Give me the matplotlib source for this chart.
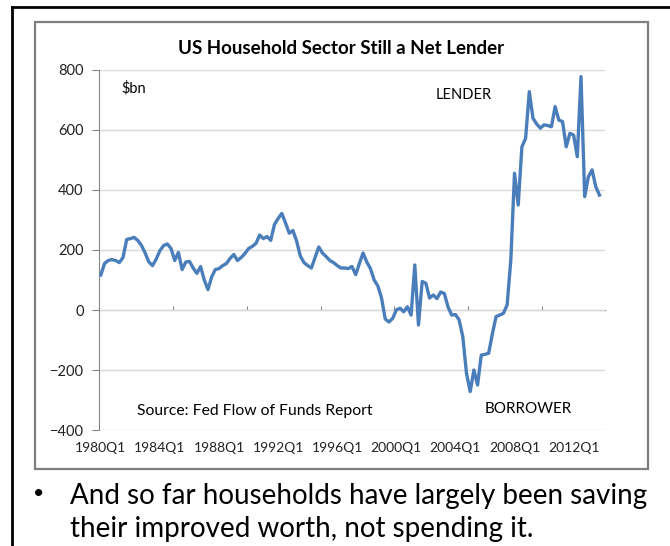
import numpy as np
import matplotlib
matplotlib.use("Agg")
import matplotlib.pyplot as plt
from matplotlib.patches import Rectangle

# netto utlån husholdninger, $bn, kvartalsvis 1980Q1 - 2013Q4 (lest av bildet)
net_lending = [
    117, 155, 165, 168, 165, 158, 175, 235, 238, 242,
    232, 215, 190, 160, 148, 170, 198, 215, 220, 205,
    165, 192, 135, 160, 162, 140, 122, 145, 100, 68,
    110, 135, 138, 148, 155, 172, 185, 165, 175, 188,
    205, 212, 222, 250, 238, 245, 232, 285, 305, 322,
    290, 256, 265, 230, 180, 158, 148, 140, 175, 210,
    190, 178, 165, 158, 148, 140, 140, 138, 145, 118,
    155, 190, 160, 138, 100, 80, 40, -30, -40, -28,
    0, 6, -6, 11, -17, 150, -50, 95, 89, 40,
    50, 38, 60, 55, 10, -17, -15, -33, -89, -211,
    -272, -200, -250, -150, -148, -144, -80, -22, -17, -11,
    17, 167, 456, 350, 544, 572, 728, 639, 620, 606,
    617, 615, 611, 678, 633, 628, 544, 589, 583, 511,
    778, 378, 444, 467, 411, 383,
]
quarters = [f"{y}Q{q}" for y in range(1980, 2014) for q in range(1, 5)]
yticks = [-400, -200, 0, 200, 400, 600, 800]
label_every = 16
tick_every = 20

plt.rcParams['font.family'] = ['Lato', 'DejaVu Sans']

W, H = 670, 546
fig = plt.figure(figsize=(W / 100, H / 100), dpi=100)

#ytre svart ramme og grå diagramramme
fig.add_artist(plt.Line2D([12 / W, 12 / W], [0, 1 - 7 / H], transform=fig.transFigure, color="black", lw=2))
fig.add_artist(plt.Line2D([12 / W, 1], [1 - 7 / H, 1 - 7 / H], transform=fig.transFigure, color="black", lw=2))
fig.add_artist(Rectangle((35 / W, 1 - 469 / H), (648 - 35) / W, (469 - 22) / H, transform=fig.transFigure,
                         facecolor="white", edgecolor="#7f7f7f", lw=1.6, zorder=0))

ax = fig.add_axes([99 / W, 1 - 430 / H, (605 - 99) / W, 360 / H])
x = np.arange(len(net_lending))
ax.plot(x, net_lending, color="#4a7ebb", lw=2.4, zorder=3)

ax.set_xlim(-0.5, len(net_lending) + 0.5)
ax.set_ylim(-400, 800)
ax.set_yticks(yticks)
ax.yaxis.grid(True, color="#d9d9d9", lw=1)
ax.set_axisbelow(True)
for s in ["top", "right", "bottom"]:
    ax.spines[s].set_visible(False)
ax.spines["left"].set_color("#868686")
ax.tick_params(axis="y", length=5, color="#868686", pad=6, labelsize=10.5, labelcolor="#222222")

lab_pos = x[::label_every]
ax.set_xticks(lab_pos, [quarters[i] for i in lab_pos])
ax.tick_params(axis="x", length=0, pad=9, labelsize=10, labelcolor="#222222")

#x-aksen ligger på null
null_pos = (0 - (-400)) / (800 - (-400))
sec = ax.secondary_xaxis(null_pos)
sec.set_xticks(np.arange(-0.5, len(net_lending), tick_every))
sec.tick_params(direction="in", length=3, color="#868686", labelbottom=False, labeltop=False)
sec.spines["bottom"].set_color("#868686")
sec.spines["top"].set_color("#868686")

ax.text(0.045, 0.95, "$bn", transform=ax.transAxes, fontsize=10.5, va="center")
ax.text(0.666, 0.93, "LENDER", transform=ax.transAxes, fontsize=10.5, va="center")
ax.text(0.075, 0.053, "Source: Fed Flow of Funds Report", transform=ax.transAxes, fontsize=11.3, va="center")
ax.text(0.763, 0.058, "BORROWER", transform=ax.transAxes, fontsize=11, va="center")

fig.text(341 / W, 1 - 48 / H, "US Household Sector Still a Net Lender", ha="center", va="center",
         fontsize=13.5, fontweight="bold")

fig.text(33 / W, 1 - 494 / H, "•", fontsize=14, va="center")
fig.text(70 / W, 1 - 496 / H, "And so far households have largely been saving", fontsize=20, va="center")
fig.text(70 / W, 1 - 529 / H, "their improved worth, not spending it.", fontsize=20, va="center")

fig.savefig("out.png", dpi=100)
